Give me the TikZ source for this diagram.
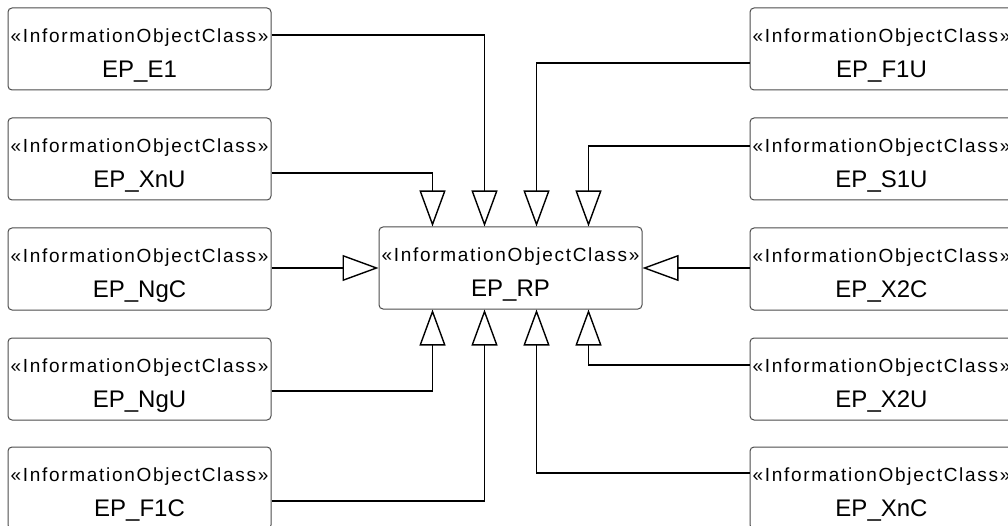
\documentclass[tikz,border=0pt]{standalone}
\usepackage{fontspec}
\setmainfont{Liberation Sans}
\newfontfamily\stfam[LetterSpace=9]{Liberation Sans}
\usetikzlibrary{arrows.meta}
\newcommand{\ioc}[1]{{\stfam\rule{0pt}{27pt}«InformationObjectClass»}\\{\fontsize{24}{35}\selectfont #1}}

\begin{document}
\begin{tikzpicture}[x=1pt,y=-1pt,
   cls/.style={draw=black!70,line width=1pt,rounded corners=4pt,minimum width=263pt,minimum height=82pt,
      inner sep=2pt,align=center,font=\fontsize{19}{35}\selectfont},
   gen/.style={black,line width=1.4pt,-{Triangle[open,length=36pt,width=26pt]}}]
   \useasboundingbox (0,0) rectangle (1008,526);
   \node[cls] (rp) at (510.5,268) {\ioc{EP\_RP}};
   \node[cls] (e1) at (139.5,49) {\ioc{EP\_E1}};
   \node[cls] (xnu) at (139.5,159) {\ioc{EP\_XnU}};
   \node[cls] (ngc) at (139.5,269) {\ioc{EP\_NgC}};
   \node[cls] (ngu) at (139.5,379) {\ioc{EP\_NgU}};
   \node[cls] (f1c) at (139.5,488) {\ioc{EP\_F1C}};
   \node[cls] (f1u) at (881.5,49) {\ioc{EP\_F1U}};
   \node[cls] (s1u) at (881.5,159) {\ioc{EP\_S1U}};
   \node[cls] (x2c) at (881.5,269) {\ioc{EP\_X2C}};
   \node[cls] (x2u) at (881.5,379) {\ioc{EP\_X2U}};
   \node[cls] (xnc) at (881.5,488) {\ioc{EP\_XnC}};
   \draw[gen] ([yshift=14pt]e1.east) -| ([xshift=-26pt]rp.north);
   \draw[gen] ([yshift=-14pt]xnu.east) -| ([xshift=-78pt]rp.north);
   \draw[gen] (ngc.east |- rp.west) -- (rp.west);
   \draw[gen] ([yshift=-12pt]ngu.east) -| ([xshift=-78pt]rp.south);
   \draw[gen] ([yshift=-13pt]f1c.east) -| ([xshift=-26pt]rp.south);
   \draw[gen] ([yshift=-14pt]f1u.west) -| ([xshift=26pt]rp.north);
   \draw[gen] ([yshift=13pt]s1u.west) -| ([xshift=78pt]rp.north);
   \draw[gen] (x2c.west |- rp.east) -- (rp.east);
   \draw[gen] ([yshift=14pt]x2u.west) -| ([xshift=78pt]rp.south);
   \draw[gen] ([yshift=15pt]xnc.west) -| ([xshift=26pt]rp.south);
\end{tikzpicture}
\end{document}
